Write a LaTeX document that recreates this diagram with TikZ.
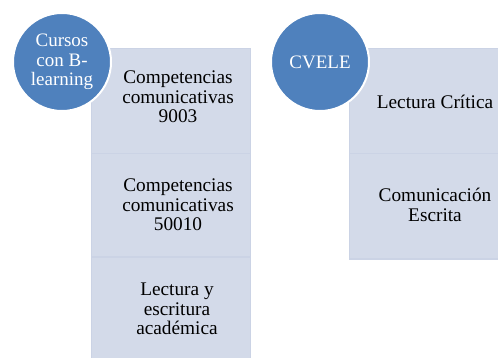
\documentclass[tikz,border=0pt]{standalone}
\usepackage{fontspec}
\setmainfont{Liberation Serif}
\definecolor{boxfill}{HTML}{D3DAE9}
\definecolor{boxedge}{HTML}{CBD3E5}
\definecolor{circfill}{HTML}{4F81BD}
\begin{document}
\begin{tikzpicture}[x=1pt,y=-1pt,
  itembox/.style={draw=boxedge,line width=1.5pt,fill=boxfill,anchor=north west,inner sep=0pt},
  itemtext/.style={align=center,text=black,font=\fontsize{19.3}{19.5}\selectfont,inner sep=0pt},
  headcirc/.style={circle,draw=white,line width=2pt,fill=circfill,minimum size=98pt,inner sep=0pt,
    text=white,align=center,font=\fontsize{19}{19.5}\selectfont}]
\useasboundingbox (0,0) rectangle (498,358);
% left column boxes
\node[itembox,minimum width=159pt,minimum height=105pt] (b1) at (90.75,48) {};
\node[itembox,minimum width=159pt,minimum height=103pt] (b2) at (90.75,153) {};
\node[itembox,minimum width=159pt,minimum height=106pt] (b3) at (90.75,256) {};
% right column boxes
\node[itembox,minimum width=152pt,minimum height=105pt] (r1) at (348.75,48) {};
\node[itembox,minimum width=152pt,minimum height=105pt] (r2) at (348.75,153) {};
% texts
\node[itemtext] (t1) at (178,97) {Competencias\\comunicativas\\9003};
\node[itemtext] (t2) at (178,205) {Competencias\\comunicativas\\50010};
\node[itemtext] (t3) at (177,309) {Lectura y\\escritura\\académica};
\node[itemtext] (t4) at (435,102) {Lectura Crítica};
\node[itemtext] (t5) at (435,205) {Comunicación\\Escrita};
% circles
\node[headcirc] (c1) at (62,62) {Cursos\\con B-\\learning};
\node[headcirc] (c2) at (320,62) {CVELE};
\end{tikzpicture}
\end{document}
